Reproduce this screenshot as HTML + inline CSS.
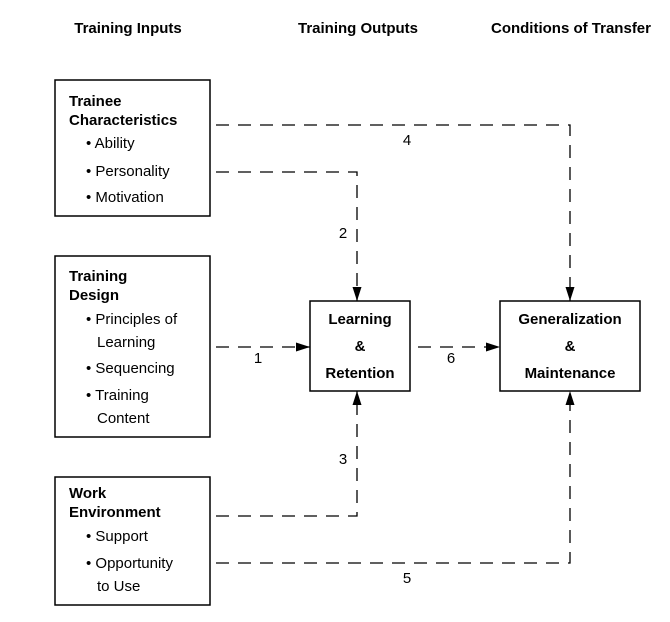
<!DOCTYPE html>
<html><head><style>
body{margin:0;background:#fff;}
svg{display:block;font-family:"Liberation Sans",Arial,sans-serif;}
.h{font-weight:bold;font-size:15px}
.b{font-weight:bold;font-size:15px}
.t{font-size:15px}
</style></head><body>
<svg width="670" height="622" viewBox="0 0 670 622" xmlns="http://www.w3.org/2000/svg">
<defs><marker id="a" markerWidth="14" markerHeight="9" refX="14" refY="4.5" orient="auto" markerUnits="userSpaceOnUse"><path d="M0,0 L14,4.5 L0,9 Z" fill="#000"/></marker></defs>
<text class="h" x="128" y="33" text-anchor="middle">Training Inputs</text>
<text class="h" x="358" y="33" text-anchor="middle">Training Outputs</text>
<text class="h" x="571" y="33" text-anchor="middle">Conditions of Transfer</text>
<g fill="none" stroke="#000" stroke-width="1.5">
<rect x="55" y="80" width="155" height="136"/>
<rect x="55" y="256" width="155" height="181"/>
<rect x="55" y="477" width="155" height="128"/>
<rect x="310" y="301" width="100" height="90"/>
<rect x="500" y="301" width="140" height="90"/>
</g>
<g fill="none" stroke="#000" stroke-width="1.3" stroke-dasharray="13,9">
<path d="M216,125 H570 V301" marker-end="url(#a)"/>
<path d="M216,172 H357 V301" marker-end="url(#a)"/>
<path d="M216,347 H310" marker-end="url(#a)"/>
<path d="M418,347 H500" marker-end="url(#a)"/>
<path d="M216,516 H357 V391" marker-end="url(#a)"/>
<path d="M216,563 H570 V391" marker-end="url(#a)"/>
</g>
<g class="t">
<text x="407" y="145" text-anchor="middle">4</text>
<text x="343" y="238" text-anchor="middle">2</text>
<text x="258" y="363" text-anchor="middle">1</text>
<text x="451" y="363" text-anchor="middle">6</text>
<text x="343" y="464" text-anchor="middle">3</text>
<text x="407" y="583" text-anchor="middle">5</text>
</g>
<text class="b" x="69" y="106">Trainee</text>
<text class="b" x="69" y="125">Characteristics</text>
<text class="t" x="86" y="148">• Ability</text>
<text class="t" x="86" y="176">• Personality</text>
<text class="t" x="86" y="202">• Motivation</text>
<text class="b" x="69" y="281">Training</text>
<text class="b" x="69" y="300">Design</text>
<text class="t" x="86" y="324">• Principles of</text>
<text class="t" x="97" y="347">Learning</text>
<text class="t" x="86" y="373">• Sequencing</text>
<text class="t" x="86" y="400">• Training</text>
<text class="t" x="97" y="423">Content</text>
<text class="b" x="69" y="498">Work</text>
<text class="b" x="69" y="517">Environment</text>
<text class="t" x="86" y="541">• Support</text>
<text class="t" x="86" y="568">• Opportunity</text>
<text class="t" x="97" y="591">to Use</text>
<text class="b" x="360" y="324" text-anchor="middle">Learning</text>
<text class="b" x="360" y="351" text-anchor="middle">&amp;</text>
<text class="b" x="360" y="378" text-anchor="middle">Retention</text>
<text class="b" x="570" y="324" text-anchor="middle">Generalization</text>
<text class="b" x="570" y="351" text-anchor="middle">&amp;</text>
<text class="b" x="570" y="378" text-anchor="middle">Maintenance</text>
</svg>
</body></html>
